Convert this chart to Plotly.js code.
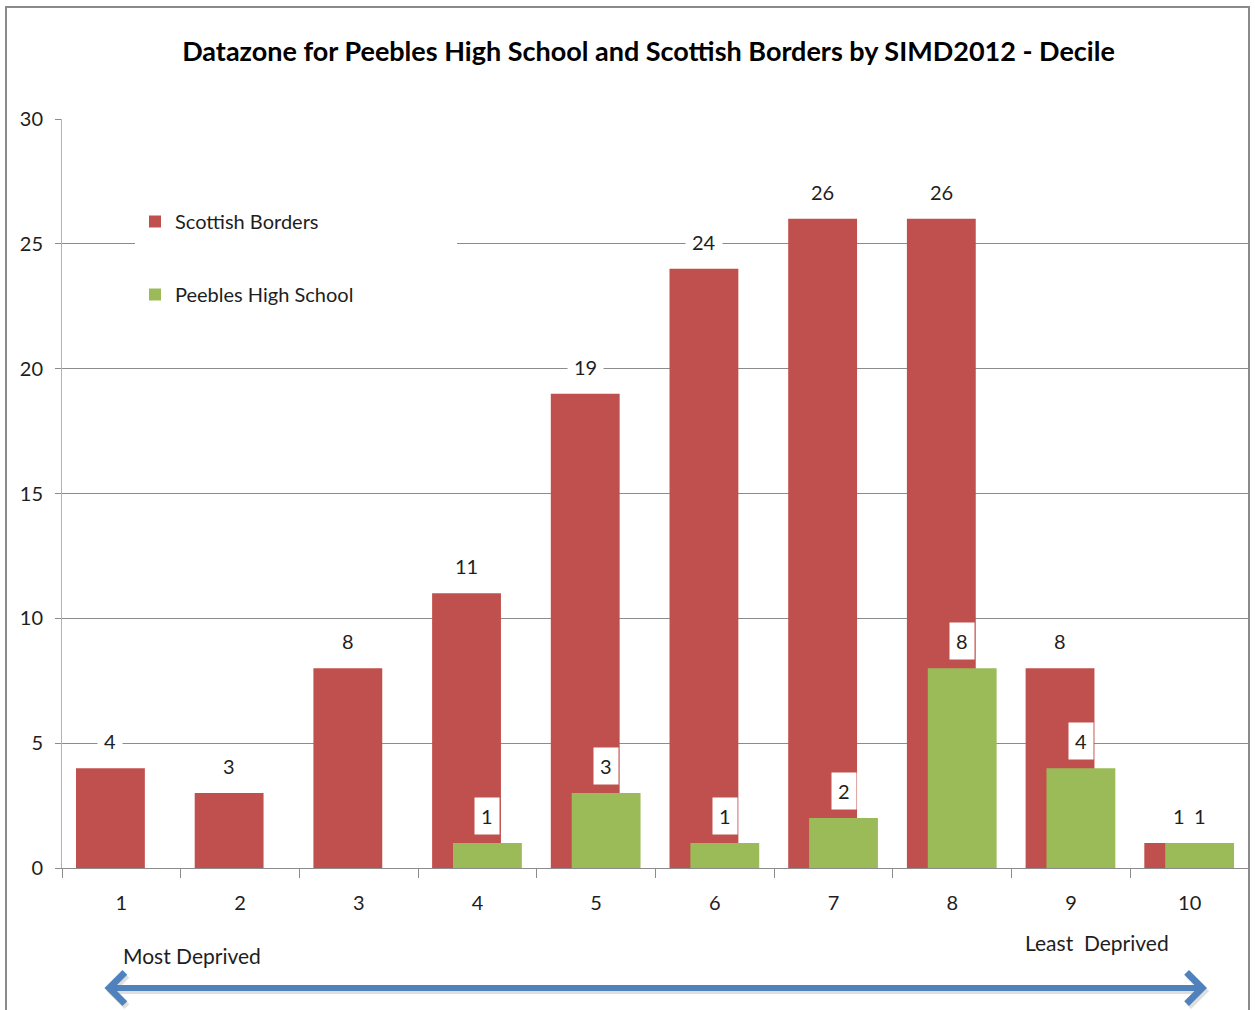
<!DOCTYPE html>
<html>
<head>
<meta charset="utf-8">
<script src="https://cdn.plot.ly/plotly-3.0.1.min.js"></script>
<style>html,body{margin:0;padding:0;background:#fff;}#chart{width:1255px;height:1010px;}</style>
</head>
<body>
<div id="chart"></div>
<script>
// ---- data ----
const deciles = ["1","2","3","4","5","6","7","8","9","10"];
const scottishBorders = [4, 3, 8, 11, 19, 24, 26, 26, 8, 1];
const peebles = [null, null, null, 1, 3, 1, 2, 8, 4, 1];
const seriesNames = ["Scottish Borders", "Peebles High School"];
const titleText = "Datazone for Peebles High School and Scottish Borders by SIMD2012 - Decile";
const leftNote = "Most Deprived";
const rightNote = "Least\u00a0 Deprived";

// ---- styling ----
const FONT = "Lato, 'Open Sans', sans-serif";
const RED = "#C0504D", GREEN = "#9BBB59", TXT = "#1e1e1e";
const BAR_W = 0.58, RED_OFF = -0.382, GREEN_OFF = -0.206;

const traces = [
  {type: "bar", name: seriesNames[0], x: deciles, y: scottishBorders,
   width: BAR_W, offset: RED_OFF, marker: {color: RED}, legendgroup: "a", hoverinfo: "x+y"},
  {type: "bar", name: seriesNames[1], x: deciles, y: peebles,
   width: BAR_W, offset: GREEN_OFF, marker: {color: GREEN}, legendgroup: "b", hoverinfo: "x+y"}
];

const annotations = [];
scottishBorders.forEach((v, i) => {
  if (v == null) return;
  annotations.push({x: i + RED_OFF + BAR_W / 2, y: v, xref: "x", yref: "y", text: String(v),
    showarrow: false, yanchor: "bottom", yshift: 8, bgcolor: "#fff", borderpad: 6,
    font: {family: FONT, size: 20, color: TXT}});
});
peebles.forEach((v, i) => {
  if (v == null) return;
  annotations.push({x: i + GREEN_OFF + BAR_W / 2, y: v, xref: "x", yref: "y", text: String(v),
    showarrow: false, yanchor: "bottom", yshift: 8, bgcolor: "#fff", borderpad: 6,
    font: {family: FONT, size: 20, color: TXT}});
});

// plot area in pixels: x 62..1249, y 119..868
const L = 62, R = 1249, T = 119, B = 868;
const px = p => (p - L) / (R - L);
const py = p => (B - p) / (B - T);

annotations.push({xref: "paper", yref: "paper", x: px(192), y: py(955), text: leftNote, showarrow: false,
  font: {family: FONT, size: 21, color: TXT}, xanchor: "center", yanchor: "middle"});
annotations.push({xref: "paper", yref: "paper", x: px(1097), y: py(942), text: rightNote, showarrow: false,
  font: {family: FONT, size: 21, color: TXT}, xanchor: "center", yanchor: "middle"});
// arrow shadow
annotations.push({xref: "paper", yref: "paper", x: px(1209), y: py(991), ax: -(1209 - 105), ay: 0,
  axref: "pixel", ayref: "pixel", text: "", showarrow: true, arrowside: "end+start",
  arrowhead: 4, startarrowhead: 4, arrowsize: 1, startarrowsize: 1, arrowwidth: 6, arrowcolor: "rgba(0,0,0,0.13)"});
annotations.push({xref: "paper", yref: "paper", x: px(1207), y: py(988), ax: -(1207 - 103), ay: 0,
  axref: "pixel", ayref: "pixel", text: "", showarrow: true, arrowside: "end+start",
  arrowhead: 4, startarrowhead: 4, arrowsize: 1, startarrowsize: 1, arrowwidth: 6, arrowcolor: "#4F81BD"});

const layout = {
  width: 1255, height: 1010,
  margin: {l: L, r: 1255 - R, t: T, b: 1010 - B, pad: 0},
  paper_bgcolor: "#fff", plot_bgcolor: "rgba(0,0,0,0)",
  barmode: "overlay",
  font: {family: FONT, size: 20, color: TXT},
  title: {text: "<b>" + titleText + "</b>", x: px(648.5), xref: "paper", xanchor: "center",
          y: 1 - 52 / 1010, yref: "container", yanchor: "middle",
          font: {family: FONT, size: 27, color: "#000"}},
  xaxis: {type: "category", tickson: "boundaries", ticks: "outside", ticklen: 9, tickcolor: "#8c8c8c",
          showline: true, linecolor: "#8c8c8c", linewidth: 1, showgrid: false,
          tickfont: {family: FONT, size: 20, color: TXT}, ticklabelstandoff: 17,
          range: [-0.5, 9.5], fixedrange: true},
  yaxis: {range: [0, 30], dtick: 5, ticks: "outside", ticklen: 6, tickcolor: "#8c8c8c",
          showline: true, linecolor: "#b4b4b4", linewidth: 1, showgrid: true, gridcolor: "#8c8c8c",
          gridwidth: 1, zeroline: false, tickfont: {family: FONT, size: 20, color: TXT},
          ticklabelstandoff: 8, fixedrange: true},
  showlegend: true,
  legend: {x: px(135), y: py(202), xanchor: "left", yanchor: "top", bgcolor: "#fff",
           font: {family: FONT, size: 20, color: TXT}, traceorder: "grouped", tracegroupgap: 44},
  shapes: [
    {type: "rect", xref: "paper", yref: "paper", x0: px(140), x1: px(457), y0: py(330), y1: py(190),
     fillcolor: "#fff", line: {width: 0}, layer: "above"},
    {type: "rect", xref: "paper", yref: "paper", x0: px(6), x1: px(1249), y0: py(1015), y1: py(7),
     fillcolor: "rgba(0,0,0,0)", line: {color: "#8a8a8a", width: 2}, layer: "above"}
  ],
  annotations: annotations
};

Plotly.newPlot("chart", traces, layout, {staticPlot: true, displayModeBar: false});
</script>
</body>
</html>
